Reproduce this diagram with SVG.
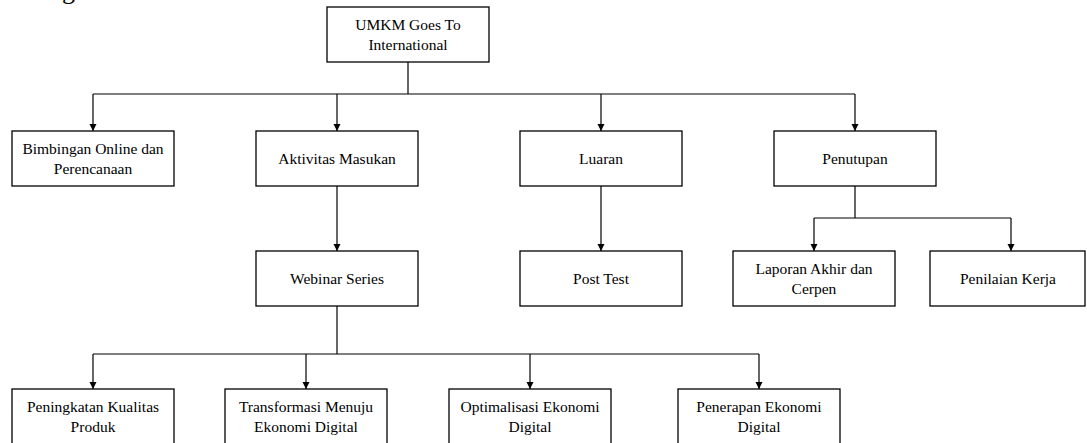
<svg xmlns="http://www.w3.org/2000/svg" width="1087" height="443" viewBox="0 0 1087 443">
<style>
.box{fill:#fff;stroke:#000;stroke-width:1.3}
.t{font-family:"Liberation Serif","Times New Roman",serif;font-size:15.5px;fill:#000;text-anchor:middle}
.c{fill:none;stroke:#000;stroke-width:1.2}
</style>
<defs>
<marker id="ah" markerWidth="8" markerHeight="8" refX="7" refY="4" orient="auto" markerUnits="userSpaceOnUse">
<path d="M0,0.5 L7,4 L0,7.5 Z" fill="#000"/>
</marker>
</defs>
<rect width="1087" height="443" fill="#fff"/>
<text x="62" y="-1" style="font-family:'Liberation Serif',serif;font-size:26px;fill:#000">g</text>
<g id="connectors">
<path class="c" d="M408,62 V94"/>
<path class="c" d="M93,94 H855"/>
<path class="c" d="M93,94 V131" marker-end="url(#ah)"/>
<path class="c" d="M337,94 V131" marker-end="url(#ah)"/>
<path class="c" d="M601,94 V131" marker-end="url(#ah)"/>
<path class="c" d="M855,94 V131" marker-end="url(#ah)"/>
<path class="c" d="M337,186 V251" marker-end="url(#ah)"/>
<path class="c" d="M601,186 V251" marker-end="url(#ah)"/>
<path class="c" d="M855,186 V218"/>
<path class="c" d="M814,218 H1011"/>
<path class="c" d="M814,218 V251" marker-end="url(#ah)"/>
<path class="c" d="M1011,218 V251" marker-end="url(#ah)"/>
<path class="c" d="M337,306 V354"/>
<path class="c" d="M93,354 H759"/>
<path class="c" d="M93,354 V389" marker-end="url(#ah)"/>
<path class="c" d="M306,354 V389" marker-end="url(#ah)"/>
<path class="c" d="M530,354 V389" marker-end="url(#ah)"/>
<path class="c" d="M759,354 V389" marker-end="url(#ah)"/>
</g>
<g id="n-root"><rect class="box" x="327" y="7" width="162" height="55"/><text class="t" x="408" y="30">UMKM Goes To</text><text class="t" x="408" y="50">International</text></g>
<g id="n-bimbingan"><rect class="box" x="12" y="131" width="162" height="55"/><text class="t" x="93" y="154">Bimbingan Online dan</text><text class="t" x="93" y="174">Perencanaan</text></g>
<g id="n-aktivitas"><rect class="box" x="256" y="131" width="162" height="55"/><text class="t" x="337" y="164">Aktivitas Masukan</text></g>
<g id="n-luaran"><rect class="box" x="520" y="131" width="162" height="55"/><text class="t" x="601" y="164">Luaran</text></g>
<g id="n-penutupan"><rect class="box" x="774" y="131" width="162" height="55"/><text class="t" x="855" y="164">Penutupan</text></g>
<g id="n-webinar"><rect class="box" x="256" y="251" width="162" height="55"/><text class="t" x="337" y="284">Webinar Series</text></g>
<g id="n-posttest"><rect class="box" x="520" y="251" width="162" height="55"/><text class="t" x="601" y="284">Post Test</text></g>
<g id="n-laporan"><rect class="box" x="733" y="251" width="162" height="55"/><text class="t" x="814" y="274">Laporan Akhir dan</text><text class="t" x="814" y="294">Cerpen</text></g>
<g id="n-penilaian"><rect class="box" x="930" y="251" width="155" height="55"/><text class="t" x="1008" y="284">Penilaian Kerja</text></g>
<g id="n-peningkatan"><rect class="box" x="12" y="389" width="162" height="60"/><text class="t" x="93" y="412">Peningkatan Kualitas</text><text class="t" x="93" y="432">Produk</text></g>
<g id="n-transformasi"><rect class="box" x="225" y="389" width="162" height="60"/><text class="t" x="306" y="412">Transformasi Menuju</text><text class="t" x="306" y="432">Ekonomi Digital</text></g>
<g id="n-optimalisasi"><rect class="box" x="449" y="389" width="162" height="60"/><text class="t" x="530" y="412">Optimalisasi Ekonomi</text><text class="t" x="530" y="432">Digital</text></g>
<g id="n-penerapan"><rect class="box" x="678" y="389" width="162" height="60"/><text class="t" x="759" y="412">Penerapan Ekonomi</text><text class="t" x="759" y="432">Digital</text></g>
</svg>
